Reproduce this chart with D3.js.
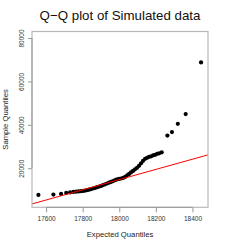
<!DOCTYPE html>
<html lang="en">
<head>
<meta charset="UTF-8">
<title>Q-Q plot</title>
<style>
    body { margin: 0; background: #fff; }
    .tickText { font-family: "Liberation Sans", Arial, sans-serif; font-size: 6.5px; fill: #333; }
    .axisTitle { font-family: "Liberation Sans", Arial, sans-serif; font-size: 7.7px; fill: #222; text-anchor: middle; }
    .title { font-family: "Liberation Sans", Arial, sans-serif; font-size: 13.3px; fill: #111; text-anchor: middle; }
</style>
<script src="https://d3js.org/d3.v7.min.js"></script>
</head>
<body>
<script>
    // expected (theoretical) quantiles and sorted sample values
    var expected = [17558, 17640, 17682, 17710, 17731, 17749, 17764, 17778, 17791, 17802,
                    17813, 17824, 17835, 17846, 17857, 17868, 17879, 17890, 17901, 17911,
                    17922, 17933, 17944, 17955, 17966, 17977, 17988, 17999, 18010, 18021,
                    18032, 18043, 18054, 18064, 18075, 18086, 18097, 18108, 18119, 18130,
                    18141, 18152, 18163, 18174, 18185, 18196, 18207, 18218, 18232, 18263,
                    18288, 18320, 18363, 18447];
    var sample = [7700, 7850, 8170, 8630, 8860, 9090, 9180, 9320, 9410, 9550,
                  9690, 9880, 10110, 10380, 10660, 10940, 11260, 11540, 11860, 12230,
                  12600, 12970, 13340, 13710, 14080, 14490, 14860, 15090, 15280, 15550,
                  16010, 16710, 17400, 18090, 18780, 19480, 20170, 21090, 22240, 23400,
                  24320, 24780, 25240, 25470, 25940, 26170, 26630, 26860, 27320, 35070,
                  36640, 40470, 44950, 68760];
    // reference line (qqline) end points
    var lineX = [17500, 18500];
    var lineY = [3010, 26510];
    var xTicks = [17600, 17800, 18000, 18200, 18400];
    var yTicks = [20000, 40000, 60000, 80000];

    const w = 240, h = 240;
    const plotL = 32, plotR = 208, plotT = 31.5, plotB = 207.3;

    const svg = d3.select("body").append("svg")
        .attr("width", w)
        .attr("height", h);

    var xScale = d3.scaleLinear().domain([17523, 18485]).range([plotL, plotR]);
    var yScale = d3.scaleLinear().domain([2000, 83000]).range([plotB, plotT]);

    svg.append("clipPath").attr("id", "plotArea")
       .append("rect")
       .attr("x", plotL).attr("y", plotT)
       .attr("width", plotR - plotL).attr("height", plotB - plotT);

    // points
    svg.append("g").selectAll("circle")
       .data(expected)
       .enter()
       .append("circle")
       .attr("cx", d => xScale(d))
       .attr("cy", (d, i) => yScale(sample[i]))
       .attr("r", 2.1)
       .attr("fill", "#000");

    // qq line
    svg.append("line")
       .attr("clip-path", "url(#plotArea)")
       .attr("x1", xScale(lineX[0])).attr("y1", yScale(lineY[0]))
       .attr("x2", xScale(lineX[1])).attr("y2", yScale(lineY[1]))
       .attr("stroke", "#f00")
       .attr("stroke-width", 1);

    // box
    svg.append("rect")
       .attr("x", plotL).attr("y", plotT)
       .attr("width", plotR - plotL).attr("height", plotB - plotT)
       .attr("fill", "none")
       .attr("stroke", "#b8b8b8")
       .attr("stroke-width", 1.2);

    // axes
    var xAxis = d3.axisBottom(xScale).tickValues(xTicks).tickFormat(d3.format("d"))
                  .tickSize(5).tickPadding(4);
    var gx = svg.append("g")
       .attr("transform", "translate(0," + plotB + ")")
       .call(xAxis);
    var yAxis = d3.axisLeft(yScale).tickValues(yTicks).tickFormat(d3.format("d"))
                  .tickSize(4).tickPadding(4);
    var gy = svg.append("g")
       .attr("transform", "translate(" + plotL + ",0)")
       .call(yAxis);

    [gx, gy].forEach(g => {
        g.select(".domain").remove();
        g.selectAll(".tick line").attr("stroke", "#999").attr("stroke-width", 1);
        g.selectAll(".tick text").attr("class", "tickText").attr("fill", null);
        g.attr("font-size", null).attr("font-family", null);
    });
    gy.selectAll(".tick text")
      .attr("transform", "rotate(-90)")
      .attr("x", 0).attr("y", -8)
      .attr("dy", 0)
      .attr("text-anchor", "middle");

    // axis lines from first to last tick, as R draws them
    svg.append("line")
       .attr("x1", xScale(xTicks[0])).attr("x2", xScale(xTicks[xTicks.length - 1]))
       .attr("y1", plotB).attr("y2", plotB)
       .attr("stroke", "#999");
    svg.append("line")
       .attr("x1", plotL).attr("x2", plotL)
       .attr("y1", yScale(yTicks[0])).attr("y2", yScale(yTicks[yTicks.length - 1]))
       .attr("stroke", "#999");

    // titles
    svg.append("text").attr("class", "title")
       .attr("x", 120).attr("y", 20)
       .text("Q\u2212Q plot of Simulated data");
    svg.append("text").attr("class", "axisTitle")
       .attr("x", 120).attr("y", 237)
       .text("Expected Quantiles");
    svg.append("text").attr("class", "axisTitle")
       .attr("transform", "translate(7.6," + ((plotT + plotB) / 2) + ") rotate(-90)")
       .text("Sample Quantiles");
</script>
</body>
</html>
